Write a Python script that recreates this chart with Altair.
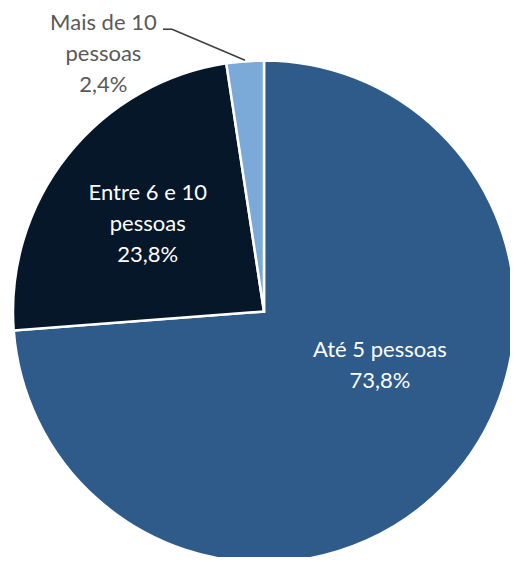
import math
import altair as alt
import pandas as pd

categories = ["Até 5 pessoas", "Entre 6 e 10 pessoas", "Mais de 10 pessoas"]
values = [73.8, 23.8, 2.4]
labels = ["Até 5 pessoas\n73,8%", "Entre 6 e 10\npessoas\n23,8%", "Mais de 10\npessoas\n2,4%"]
colors = ["#2E5B8A", "#061729", "#7BAAD9"]

W, H = 502, 549
R = 251
CX, CY = 256, 303.5
LH = 31

df = pd.DataFrame({"cat": categories, "value": values, "label": labels, "order": [0, 1, 2]})
df["mid"] = df["value"].cumsum() - df["value"] / 2
total = float(df["value"].sum())

pie = alt.Chart(df).mark_arc(radius=R, stroke="white", strokeWidth=2.5).encode(
    theta=alt.Theta("value:Q", stack=True, scale=alt.Scale(domain=[0, total])),
    order=alt.Order("order:Q"),
    color=alt.Color("cat:N", scale=alt.Scale(domain=categories, range=colors), legend=None),
    x=alt.value(CX), y=alt.value(CY),
)

def label_layer(i, radius, dx, dy, color):
    n = labels[i].count("\n")
    return alt.Chart(df).transform_filter(alt.datum.order == i).mark_text(
        radius=radius, dx=dx, dy=dy - n * LH / 2, lineBreak="\n", font="Lato", fontSize=22,
        lineHeight=LH, align="center", baseline="middle", color=color,
    ).encode(
        theta=alt.Theta("mid:Q", stack=False, scale=alt.Scale(domain=[0, total])),
        text="label:N",
        x=alt.value(CX), y=alt.value(CY),
    )

t0 = label_layer(0, 128, 22, -33.5, "white")
t1 = label_layer(1, 155, 5, 9.5, "white")
t2 = label_layer(2, 300, -138, 41.5, "#595959")

# leader line for the small slice, derived from its mid angle
ang = math.radians(df["mid"].iloc[2] / total * 360)
ex, ey = CX + (R + 1) * math.sin(ang), CY - (R + 1) * math.cos(ang)
kx, ky = ex - 73, ey - 31
sx, sy = kx - 9, ky
seg = pd.DataFrame({"k": [0]})
lead1 = alt.Chart(seg).mark_rule(color="#404040", strokeWidth=1.6).encode(
    x=alt.value(ex), y=alt.value(ey), x2=alt.value(kx), y2=alt.value(ky))
lead2 = alt.Chart(seg).mark_rule(color="#404040", strokeWidth=1.6).encode(
    x=alt.value(kx), y=alt.value(ky), x2=alt.value(sx), y2=alt.value(sy))

chart = alt.layer(pie, t0, t1, t2, lead1, lead2).properties(
    width=W, height=H, padding=0, autosize=alt.AutoSizeParams(type="none"),
).configure_view(stroke=None)

chart.save("out.html", embed_options={"renderer": "svg", "actions": False})
